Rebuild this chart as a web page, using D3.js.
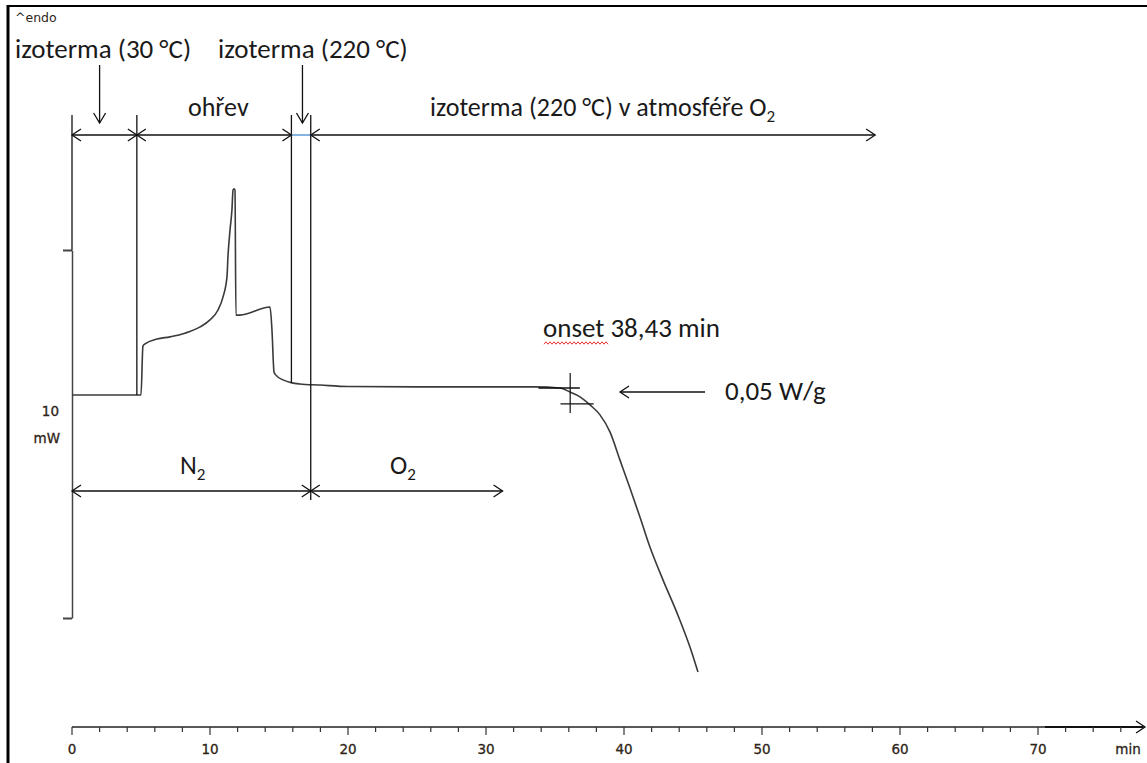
<!DOCTYPE html>
<html>
<head>
<meta charset="utf-8">
<script src="https://cdn.jsdelivr.net/npm/d3@7"></script>
<style>
  body { margin: 0; background: #fff; }
  svg { display: block; }
  .lbl { font-family: Carlito, Calibri, Lato, sans-serif; fill: #1a1a1a; }
  .tick-lbl { font-family: Tahoma, "DejaVu Sans", sans-serif; font-size: 13.5px; fill: #2e2418; stroke: #2e2418; stroke-width: 0.3; }
</style>
</head>
<body>
<svg class="chart" width="1147" height="763"></svg>
<script>
// DSC curve, time in min, heat flow in mW (relative to the bottom of the 10 mW bar)
var time = [0, 4.85, 5.0, 5.14, 5.29, 6.16, 7.1, 8.19, 9.28, 10.0, 10.58, 10.94, 11.23, 11.3, 11.45, 11.59, 11.67, 11.74,
            11.81, 11.88, 12.17, 14.35, 14.49, 14.64, 14.78, 15.29, 15.94, 16.5, 17.97, 20, 25, 33.5, 35.36, 36.09,
            36.81, 37.54, 38.26, 38.99, 39.71, 40.43, 41.16, 41.88, 42.83, 43.84, 44.78, 45.36];
var heatFlow = [6.06, 6.06, 6.06, 7.39, 7.45, 7.58, 7.64, 7.74, 7.91, 8.10, 8.37, 8.72, 9.27, 9.81, 10.54, 11.09, 11.63, 11.66,
                11.63, 8.23, 8.23, 8.45, 7.83, 6.68, 6.60, 6.47, 6.39, 6.36, 6.33, 6.29, 6.28, 6.28, 6.25, 6.14,
                6.01, 5.79, 5.52, 5.05, 4.29, 3.53, 2.74, 1.93, 1.03, 0.14, -0.79, -1.47];

var xMajor = [0, 10, 20, 30, 40, 50, 60, 70];
var xMinor = d3.range(0, 77, 2);
var yBar = [0, 10];           // 10 mW scale bar

// segment boundaries (min)
var segStops = [0, 4.7, 15.9, 17.3, 58.2];
var gasStops = [0, 17.3, 31.2];
var downArrows = [2.0, 16.7];
var onsetT = 36.1, onsetLevels = [6.25, 5.82];

var svg = d3.select(".chart");
var x = d3.scaleLinear().domain([0, 70]).range([72, 1038]);
var y = d3.scaleLinear().domain([0, 10]).range([618, 250]);

// frame
svg.append("line").attr("x1", 8).attr("x2", 8).attr("y1", 5).attr("y2", 763).attr("stroke", "#000").attr("stroke-width", 3);
svg.append("line").attr("x1", 7).attr("x2", 1147).attr("y1", 6).attr("y2", 6).attr("stroke", "#000").attr("stroke-width", 2);

function arrowHead(g, px, py, dir) { // dir: 'l','r','d'
  var p;
  if (dir == 'r') p = [[px - 9, py - 6], [px, py], [px - 9, py + 6]];
  else if (dir == 'l') p = [[px + 9, py - 6], [px, py], [px + 9, py + 6]];
  else p = [[px - 6, py - 10], [px, py], [px + 6, py - 10]];
  g.append("path").attr("d", d3.line()(p)).attr("fill", "none").attr("stroke", "#111").attr("stroke-width", 1.3);
}

// x axis
var axisY = 727;
var g = svg.append("g");
g.append("line").attr("x1", x(0)).attr("x2", 1144).attr("y1", axisY).attr("y2", axisY).attr("stroke", "#222").attr("stroke-width", 1.3);
g.append("line").attr("x1", 1045).attr("x2", 1143).attr("y1", axisY).attr("y2", axisY).attr("stroke", "#111").attr("stroke-width", 2);
arrowHead(g, 1145, axisY, 'r');
g.selectAll(".minor").data(xMinor).enter().append("line")
  .attr("x1", function(d) { return x(d); }).attr("x2", function(d) { return x(d); })
  .attr("y1", axisY).attr("y2", function(d) { return d % 10 == 0 ? axisY + 8 : axisY + 5; })
  .attr("stroke", "#333").attr("stroke-width", 1.2);
g.selectAll(".xl").data(xMajor).enter().append("text")
  .attr("class", "tick-lbl")
  .attr("x", function(d) { return x(d); }).attr("y", 754)
  .attr("text-anchor", "middle")
  .text(function(d) { return d; });
g.append("text").attr("class", "tick-lbl").attr("x", 1128).attr("y", 754).attr("text-anchor", "middle").text("min");

// y scale bar
var gy = svg.append("g").attr("transform", "translate(" + x(0) + ",0)")
  .call(d3.axisLeft(y).tickValues(yBar).tickSize(9).tickSizeOuter(0).tickFormat(""));
gy.select(".domain").attr("stroke", "#444").attr("stroke-width", 1.5);
gy.selectAll(".tick line").attr("stroke", "#444").attr("stroke-width", 2);
svg.append("text").attr("class", "tick-lbl").attr("x", 59).attr("y", 416).attr("text-anchor", "end").text("10");
svg.append("text").attr("class", "tick-lbl").attr("x", 60).attr("y", 443).attr("text-anchor", "end").text("mW");
svg.append("text").attr("class", "tick-lbl").attr("x", 15).attr("y", 22).style("font-size", "12.5px").style("stroke-width", 0).text("^endo");

// curve
var line = d3.line().curve(d3.curveMonotoneX)
  .x(function(d, i) { return x(time[i]); }).y(function(d) { return y(d); });
svg.append("path").datum(heatFlow).attr("d", line)
  .attr("fill", "none").attr("stroke", "#3a3a3a").attr("stroke-width", 1.6);

// onset construction
svg.append("line").attr("x1", x(onsetT)).attr("x2", x(onsetT)).attr("y1", 373).attr("y2", 413).attr("stroke", "#111").attr("stroke-width", 1.2);
svg.append("line").attr("x1", x(33.8)).attr("x2", x(36.8)).attr("y1", y(onsetLevels[0])).attr("y2", y(onsetLevels[0])).attr("stroke", "#111").attr("stroke-width", 1.3);
svg.append("line").attr("x1", x(35.4)).attr("x2", x(37.8)).attr("y1", y(onsetLevels[1])).attr("y2", y(onsetLevels[1])).attr("stroke", "#111").attr("stroke-width", 1.2);

// annotation brackets (top)
var ay = 135, barTop = 115;
var ga = svg.append("g");
var bottoms = [250, 395, 383, 500];
[0, 1, 2, 3].forEach(function(i) {
  ga.append("line").attr("x1", x(segStops[i])).attr("x2", x(segStops[i])).attr("y1", barTop).attr("y2", bottoms[i])
    .attr("stroke", "#111").attr("stroke-width", 1.3);
});
ga.append("line").attr("x1", x(segStops[0])).attr("x2", x(segStops[2])).attr("y1", ay).attr("y2", ay).attr("stroke", "#111").attr("stroke-width", 1.3);
ga.append("line").attr("x1", x(segStops[2])).attr("x2", x(segStops[3])).attr("y1", ay).attr("y2", ay).attr("stroke", "#5b9bd5").attr("stroke-width", 1.5);
ga.append("line").attr("x1", x(segStops[3])).attr("x2", x(segStops[4])).attr("y1", ay).attr("y2", ay).attr("stroke", "#111").attr("stroke-width", 1.3);
arrowHead(ga, x(segStops[0]), ay, 'l');
arrowHead(ga, x(segStops[1]), ay, 'r');
arrowHead(ga, x(segStops[1]), ay, 'l');
arrowHead(ga, x(segStops[2]), ay, 'r');
arrowHead(ga, x(segStops[3]), ay, 'l');
arrowHead(ga, x(segStops[4]), ay, 'r');
downArrows.forEach(function(t) {
  ga.append("line").attr("x1", x(t)).attr("x2", x(t)).attr("y1", 65).attr("y2", 123).attr("stroke", "#111").attr("stroke-width", 1.3);
  arrowHead(ga, x(t), 123, 'd');
});

// gas brackets
var gyy = 491;
ga.append("line").attr("x1", x(gasStops[0])).attr("x2", x(gasStops[2])).attr("y1", gyy).attr("y2", gyy).attr("stroke", "#111").attr("stroke-width", 1.3);
arrowHead(ga, x(gasStops[0]), gyy, 'l');
arrowHead(ga, x(gasStops[1]), gyy, 'r');
arrowHead(ga, x(gasStops[1]), gyy, 'l');
arrowHead(ga, x(gasStops[2]), gyy, 'r');

// 0,05 W/g arrow
ga.append("line").attr("x1", 620).attr("x2", 705).attr("y1", 392).attr("y2", 392).attr("stroke", "#111").attr("stroke-width", 1.3);
arrowHead(ga, 620, 392, 'l');

// texts
function label(tx, ty, s, size) {
  return svg.append("text").attr("class", "lbl").attr("x", tx).attr("y", ty).style("font-size", size + "px").text(s);
}
function sub(t, size) {
  t.append("tspan").attr("dy", 6).style("font-size", size + "px").text("2");
}
label(15, 58, "izoterma (30 °C)", 27);
label(218, 58, "izoterma (220 °C)", 27);
label(188, 116, "ohřev", 26);
sub(label(430, 116, "izoterma (220 °C) v atmosféře O", 26), 17);
sub(label(180, 474, "N", 26), 17);
sub(label(390, 474, "O", 26), 17);
label(543, 337, "onset 38,43 min", 27);
label(725, 400, "0,05 W/g", 27);

// spell-check squiggle under "onset"
var sq = [];
for (var i = 0; i <= 32; i++) sq.push([544 + i * 2, 343 + (i % 2 ? -1.2 : 1.2)]);
svg.append("path").attr("d", d3.line()(sq)).attr("fill", "none").attr("stroke", "#e23030").attr("stroke-width", 1);
</script>
</body>
</html>
